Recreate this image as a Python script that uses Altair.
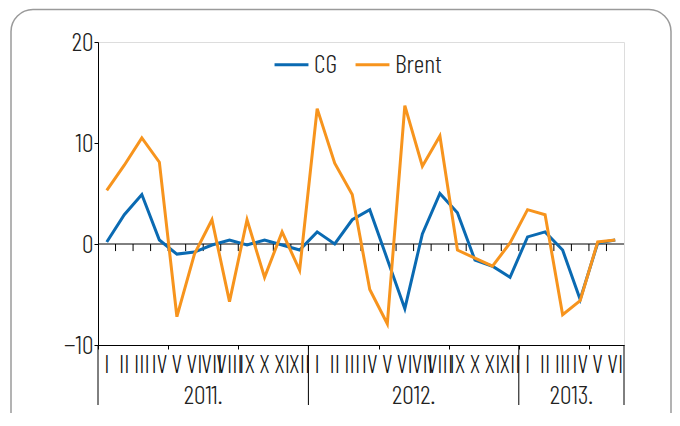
import altair as alt
import pandas as pd

months = ["I", "II", "III", "IV", "V", "VI", "VII", "VIII", "IX", "X", "XI", "XII"] * 2 + \
         ["I", "II", "III", "IV", "V", "VI"]
years = ["2011.", "2012.", "2013."]
year_start = [0, 12, 24]
year_end = [12, 24, 30]
cg = [0.2, 2.9, 4.9, 0.4, -1.0, -0.8, -0.1, 0.4, -0.1, 0.4, -0.1, -0.6,
      1.2, 0.0, 2.4, 3.4, -1.5, -6.4, 1.0, 5.0, 3.1, -1.6, -2.2, -3.3,
      0.7, 1.2, -0.6, -5.5, 0.1, 0.4]
brent = [5.3, 7.8, 10.5, 8.1, -7.2, -1.0, 2.4, -5.7, 2.4, -3.3, 1.2, -2.6,
         13.4, 8.0, 4.9, -4.5, -7.9, 13.7, 7.7, 10.7, -0.6, -1.4, -2.2, 0.1,
         3.4, 2.9, -7.0, -5.6, 0.2, 0.4]
series = ["CG", "Brent"]
colors = ["#0a6ab2", "#f7941d"]

FONT = "Barlow Condensed"
FS = 26
FW = 300

rows = []
for name, vals in zip(series, [cg, brent]):
    for i, v in enumerate(vals):
        rows.append({"x": i + 0.5, "v": v, "series": name})
df = pd.DataFrame(rows)

xscale = alt.Scale(domain=[0, 30], nice=False, zero=False)
yscale = alt.Scale(domain=[-10, 20], nice=False, zero=False)
color = alt.Color("series:N", scale=alt.Scale(domain=series, range=colors),
                  legend=alt.Legend(title=None, orient="none", legendX=175, legendY=4,
                                    direction="horizontal", symbolType="stroke",
                                    symbolStrokeWidth=3, symbolSize=1150,
                                    labelFont=FONT, labelFontSize=FS, labelFontWeight=FW,
                                    labelColor="#222", columnPadding=11, labelOffset=4))

one = pd.DataFrame({"a": [0]})
border = alt.Chart(one).mark_rect(cornerRadius=22, fillOpacity=0, stroke="#9a9a9a",
                                  strokeWidth=1.5).encode(
    x=alt.value(-87), x2=alt.value(573), y=alt.value(-32.5), y2=alt.value(440))

zero = alt.Chart(pd.DataFrame({"y": [0]})).mark_rule(color="black", strokeWidth=1).encode(
    y=alt.Y("y:Q", scale=yscale))

bounds = pd.DataFrame({"b": list(range(1, 30))})
zticks = alt.Chart(bounds).mark_rule(color="black", strokeWidth=1).encode(
    x=alt.X("b:Q", scale=xscale), y=alt.datum(0), y2=alt.datum(-0.7))

base = alt.Chart(df).mark_line(strokeWidth=3).encode(
    x=alt.X("x:Q", scale=xscale,
            axis=alt.Axis(values=list(range(31)), labels=False, tickSize=4, title=None,
                          grid=False, domainColor="black", tickColor="black")),
    y=alt.Y("v:Q", scale=yscale,
            axis=alt.Axis(values=[-10, 0, 10, 20], title=None, grid=False, tickSize=4,
                          labelPadding=1, domainColor="black", tickColor="black",
                          labelFont=FONT, labelFontSize=FS, labelFontWeight=FW,
                          labelColor="#222")),
    color=color)
line_cg = base.transform_filter(alt.datum.series == "CG")
line_brent = base.transform_filter(alt.datum.series == "Brent")

mdf = pd.DataFrame({"x": [i + 0.5 for i in range(len(months))], "m": months})
mlabels = alt.Chart(mdf).mark_text(font=FONT, fontSize=25, fontWeight=FW, color="#111",
                                   baseline="middle").encode(
    x=alt.X("x:Q", scale=xscale), y=alt.value(323), text="m:N")

ydf = pd.DataFrame({"x": [(s + e) / 2 for s, e in zip(year_start, year_end)], "y": years})
ylabels = alt.Chart(ydf).mark_text(font=FONT, fontSize=FS, fontWeight=FW, color="#222",
                                   baseline="middle").encode(
    x=alt.X("x:Q", scale=xscale), y=alt.value(354), text="y:N")

sdf = pd.DataFrame({"b": [0] + year_end})
seps = alt.Chart(sdf).mark_rule(color="black", strokeWidth=1).encode(
    x=alt.X("b:Q", scale=xscale), y=alt.value(303), y2=alt.value(363))

chart = alt.layer(border, zero, zticks, line_cg, line_brent, mlabels, ylabels, seps).properties(
    width=526, height=303,
    autosize=alt.AutoSizeParams(type="none"),
    padding={"left": 90, "top": 34, "right": 48, "bottom": 68},
).configure_view(stroke="black", strokeWidth=1).configure(background="white")

chart.save("out.html", embed_options={"renderer": "svg", "actions": False})
